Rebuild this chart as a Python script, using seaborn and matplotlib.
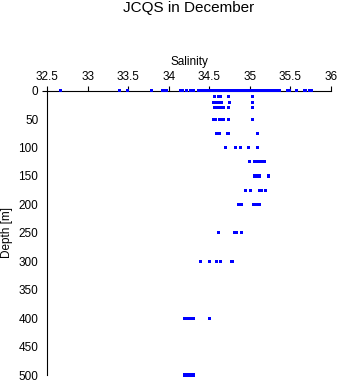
import matplotlib
matplotlib.use("Agg")
import matplotlib.pyplot as plt
import seaborn as sns
import pandas as pd

# ---- data ----
depth_levels = [0, 10, 20, 30, 50, 75, 100, 125, 150, 175, 200, 250, 300, 400, 500]
sal_0m = [32.67, 33.39, 33.49, 33.79, 33.93, 33.97, 34.15, 34.17, 34.22, 34.27, 34.31,
          34.37, 34.40, 34.43, 34.46, 34.49, 34.52, 34.55, 34.58, 34.61, 34.64, 34.67,
          34.70, 34.73, 34.76, 34.79, 34.82, 34.85, 34.88, 34.91, 34.94, 34.97, 35.00,
          35.03, 35.06, 35.09, 35.12, 35.15, 35.18, 35.21, 35.24, 35.27, 35.30, 35.33,
          35.36, 35.47, 35.49, 35.57, 35.67, 35.69, 35.73, 35.76]
sal_10m = [34.56, 34.62, 34.64, 34.74, 35.03]
sal_20m = [34.55, 34.57, 34.62, 34.65, 34.75, 35.03]
sal_30m = [34.56, 34.58, 34.60, 34.62, 34.64, 34.67, 34.74, 35.03]
sal_50m = [34.55, 34.57, 34.63, 34.65, 34.67, 34.74, 35.03]
sal_75m = [34.59, 34.63, 34.72, 34.73, 35.09]
sal_100m = [34.70, 34.82, 34.88, 34.98, 35.09]
sal_125m = [35.00, 35.06, 35.08, 35.10, 35.13, 35.16, 35.18]
sal_150m = [35.06, 35.10, 35.12, 35.23]
sal_175m = [34.95, 35.01, 35.12, 35.14, 35.19]
sal_200m = [34.86, 34.90, 35.04, 35.07, 35.10, 35.12]
sal_250m = [34.61, 34.81, 34.83, 34.90]
sal_300m = [34.39, 34.50, 34.59, 34.64, 34.78]
sal_400m = [34.19, 34.22, 34.25, 34.28, 34.30, 34.50]
sal_500m = [34.20, 34.23, 34.26, 34.29, 34.31]

sal_by_level = [sal_0m, sal_10m, sal_20m, sal_30m, sal_50m, sal_75m, sal_100m, sal_125m,
                sal_150m, sal_175m, sal_200m, sal_250m, sal_300m, sal_400m, sal_500m]

x_ticks = [32.5, 33, 33.5, 34, 34.5, 35, 35.5, 36]
x_ticklabels = ["32.5", "33", "33.5", "34", "34.5", "35", "35.5", "36"]
y_ticks = [0, 50, 100, 150, 200, 250, 300, 350, 400, 450, 500]

rows = []
for d, sals in zip(depth_levels, sal_by_level):
    for s in sals:
        rows.append({"Salinity": s, "Depth": d})
df = pd.DataFrame(rows)

# ---- styling ----
sns.set_style("white")
plt.rcParams['font.family'] = ['Liberation Sans', 'DejaVu Sans']
plt.rcParams['text.color'] = 'black'
plt.rcParams['axes.labelcolor'] = 'black'
plt.rcParams['xtick.color'] = 'black'
plt.rcParams['ytick.color'] = 'black'

fig = plt.figure(figsize=(3.41, 3.84), dpi=100)
ax = fig.add_axes([47 / 341, 1 - 375 / 384, 284 / 341, (375 - 90.7) / 384])

sns.scatterplot(data=df, x="Salinity", y="Depth", ax=ax, marker="s", s=5,
                color="#0000ff", linewidth=0, edgecolor="none", clip_on=False,
                zorder=3, legend=False)

ax.set_xlim(32.5, 36)
ax.set_ylim(500, 0)

ax.xaxis.tick_top()
ax.xaxis.set_label_position('top')
ax.set_xticks(x_ticks)
ax.set_xticklabels(x_ticklabels)
ax.set_yticks(y_ticks)

for side in ["right", "bottom"]:
    ax.spines[side].set_visible(False)
for side in ["top", "left"]:
    ax.spines[side].set_color("black")
    ax.spines[side].set_linewidth(0.8)

ax.tick_params(axis="x", which="major", top=True, bottom=False, direction="out",
               length=3.6, width=0.8, color="black", labelcolor="black",
               labelsize=8.5, pad=2)
ax.tick_params(axis="y", which="major", left=True, direction="out",
               length=3.6, width=0.8, color="black", labelcolor="black",
               labelsize=8.5, pad=2.7)
for t in ax.yaxis.get_major_ticks()[1:]:
    t.tick1line.set_visible(False)

ax.set_xlabel("Salinity", fontsize=8.5, color="black")
ax.set_ylabel("Depth [m]", fontsize=8.5, color="black")
ax.xaxis.set_label_coords(0.5, 1.09)
ax.yaxis.set_label_coords(-0.12, 0.5)

fig.text(189 / 341, 1 - 8 / 384, "JCQS in December", ha="center", va="center",
         fontsize=11, color="black")

fig.savefig("out.png", dpi=100)
